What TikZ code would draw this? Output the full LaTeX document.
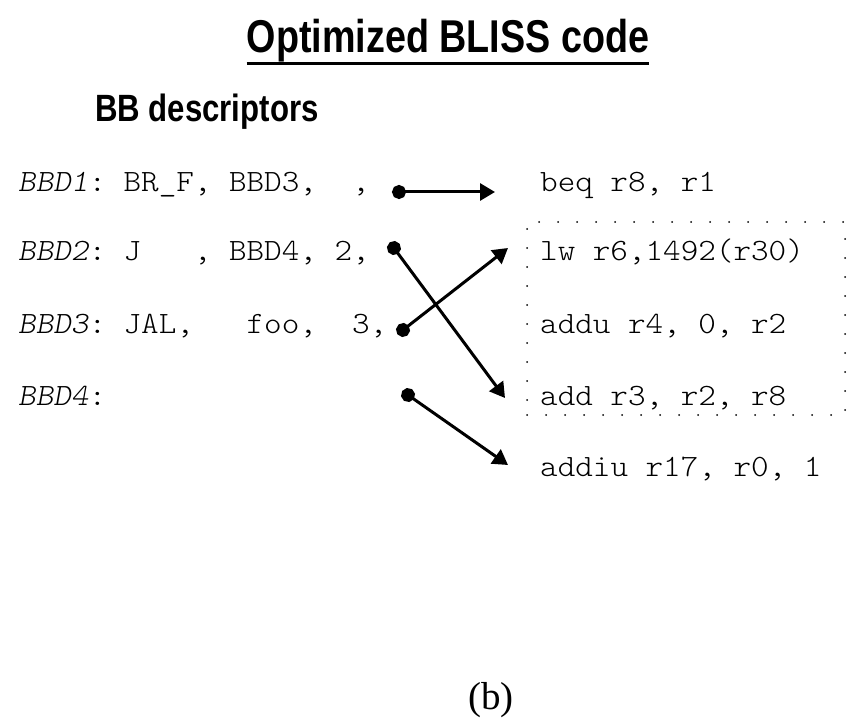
\documentclass[tikz,border=0pt]{standalone}
\usepackage{fontspec}
\setmainfont{Liberation Serif}
\setmonofont[FakeStretch=1.08]{Latin Modern Mono Light}
\newfontfamily\narrowsans[FakeStretch=0.82]{Liberation Sans}
\usetikzlibrary{arrows.meta}
\begin{document}
\begin{tikzpicture}[x=1pt,y=-1pt,
  code/.style={font=\fontsize{31}{36}\selectfont\ttfamily, inner sep=0, anchor=base west},
  conn/.style={line width=3pt, {Circle[length=14pt]}-{Triangle[length=15pt,width=17pt]}},
  dotbox/.style={draw, line width=2pt, dash pattern=on 0pt off 19pt, line cap=round, inner sep=0}]
\useasboundingbox (0,0) rectangle (854,722);
% title
\node[inner sep=0, anchor=base, font=\narrowsans\bfseries\fontsize{46}{52}\selectfont] (title) at (448,53) {Optimized BLISS code};
\draw[line width=3pt] ([yshift=-11pt]title.base west) -- ([yshift=-11pt]title.base east);
\node[inner sep=0, anchor=base west, font=\narrowsans\bfseries\fontsize{38}{44}\selectfont] (bbd) at (95,122) {BB descriptors};
% left descriptors
\node[code] (d1) at (18,192) {\itshape BBD1\upshape: BR\_F, BBD3,~~,};
\node[code] (d2) at (18,260) {\itshape BBD2\upshape: J~~~, BBD4, 2,};
\node[code] (d3) at (18,333) {\itshape BBD3\upshape: JAL,~~~foo,~~3,};
\node[code] (d4) at (18,405) {\itshape BBD4\upshape:};
% right code
\node[code] (c1) at (540,192) {beq r8, r1};
\node[code] (c2) at (540,260) {lw r6,1492(r30)};
\node[code] (c3) at (540,333) {addu r4, 0, r2};
\node[code] (c4) at (540,405) {add r3, r2, r8};
\node[code] (c5) at (540,476) {addiu r17, r0, 1};
% dotted box
\node[dotbox, minimum width=318pt, minimum height=193pt] (box) at (686,318.5) {};
% connector ends
\coordinate (s1) at (392,192);
\coordinate (t1) at (495,192);
\coordinate (s2) at (389.8,242.4);
\coordinate (t2) at (505,398);
\coordinate (s3) at (397.5,334.3);
\coordinate (t3) at (508,248);
\coordinate (s4) at (402.3,391);
\coordinate (t4) at (508,465);
\draw[conn] (s1) -- (t1);
\draw[conn] (s2) -- (t2);
\draw[conn] (s3) -- (t3);
\draw[conn] (s4) -- (t4);
% caption
\node[inner sep=0, anchor=base, font=\fontsize{39}{46}\selectfont] (cap) at (491,709) {(b)};
\end{tikzpicture}
\end{document}
